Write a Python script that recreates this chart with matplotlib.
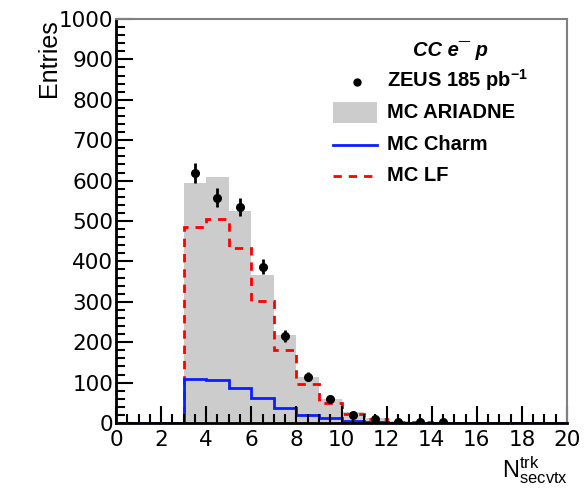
import numpy as np
import matplotlib
matplotlib.use("Agg")
import matplotlib.pyplot as plt
from matplotlib.ticker import MultipleLocator

plt.rcParams['font.family'] = ['Liberation Sans', 'DejaVu Sans']
plt.rcParams['mathtext.fontset'] = 'custom'
plt.rcParams['mathtext.rm'] = 'Liberation Sans'
plt.rcParams['mathtext.it'] = 'Liberation Sans:italic'
plt.rcParams['mathtext.bf'] = 'Liberation Sans:bold'

bin_edges = np.arange(0, 21, 1)
mc_ariadne = [0, 0, 0, 593, 610, 525, 366, 218, 115, 59, 28, 12, 5, 2, 1, 0, 0, 0, 0, 0]
mc_lf = [0, 0, 0, 484, 504, 434, 303, 181, 96, 49, 22, 9, 3, 2, 1, 0, 0, 0, 0, 0]
mc_charm = [0, 0, 0, 109, 106, 87, 61, 36, 21, 12, 5, 2, 1, 0, 0, 0, 0, 0, 0, 0]
data_x = [3.5, 4.5, 5.5, 6.5, 7.5, 8.5, 9.5, 10.5, 11.5, 12.5, 13.5, 14.5]
data_y = [618, 558, 535, 387, 216, 115, 59, 21, 9, 3, 3, 2]
data_err = [25, 23, 22, 19, 15, 11, 8, 5, 3, 2, 2, 1.5]

fig = plt.figure(figsize=(5.84, 4.91), dpi=100)
ax = fig.add_axes([116/584, 68/491, (567-116)/584, (423-19)/491])

ax.stairs(mc_ariadne, bin_edges, fill=True, color='#cccccc', lw=0)
ax.stairs(mc_lf, bin_edges, color='#ff0000', lw=2, linestyle=(0, (3, 2.5)))
ax.stairs(mc_charm, bin_edges, color='#0a1eff', lw=2)
ax.errorbar(data_x, data_y, yerr=data_err, fmt='o', color='black', ms=5.5,
            elinewidth=2, capsize=0, zorder=5)

ax.set_xlim(0, 20)
ax.set_ylim(0, 1000)
ax.xaxis.set_major_locator(MultipleLocator(2))
ax.xaxis.set_minor_locator(MultipleLocator(0.5))
ax.yaxis.set_major_locator(MultipleLocator(100))
ax.yaxis.set_minor_locator(MultipleLocator(20))
ax.tick_params(axis='both', which='both', direction='in', top=False, right=False,
               labelsize=15.5, width=1.5, color='black')
ax.tick_params(axis='both', which='major', length=12, pad=2)
ax.tick_params(axis='both', which='minor', length=6.5)
ax.tick_params(axis='x', which='major', pad=5)
for lab in ax.get_xticklabels() + ax.get_yticklabels():
    lab.set_family('DejaVu Sans')

for s in ['left', 'bottom']:
    ax.spines[s].set_color('black')
    ax.spines[s].set_linewidth(2)
for s in ['top', 'right']:
    ax.spines[s].set_color('#808080')
    ax.spines[s].set_linewidth(1.5)

fig.text(49/584, 1 - 19/491, 'Entries', rotation=90, ha='center', va='top', fontsize=18)
fig.text(535/584, 1 - 470/491, r'N$^{\mathrm{trk}}_{\mathrm{secvtx}}$', ha='center',
         va='center', fontsize=17)

# legend (manual, ROOT-like)
fig.text(450/584, 1 - 50/491, 'CC e\u00af p', ha='center',
         va='center', fontsize=14.5, fontweight='bold', style='italic')
tx = 387/584
rows = [80, 112, 145, 176]
labels = [r'ZEUS 185 pb$^{\mathbf{-1}}$', 'MC ARIADNE', 'MC Charm', 'MC LF']
for r, lab in zip(rows, labels):
    fig.text(tx, 1 - r/491, lab, ha='left', va='center', fontsize=14.5, fontweight='bold')

lax = fig.add_axes([0, 0, 1, 1], facecolor='none')
lax.set_xlim(0, 584)
lax.set_ylim(491, 0)
lax.axis('off')
lax.plot([357], [82], 'o', color='black', ms=5)
lax.add_patch(plt.Rectangle((333, 102), 44, 21, color='#cccccc', lw=0))
lax.plot([333, 377], [145, 145], color='#0a1eff', lw=2)
lax.plot([333, 377], [176, 176], color='#ff0000', lw=2, linestyle=(0, (3, 2.5)))

fig.savefig('out.png', dpi=100)
